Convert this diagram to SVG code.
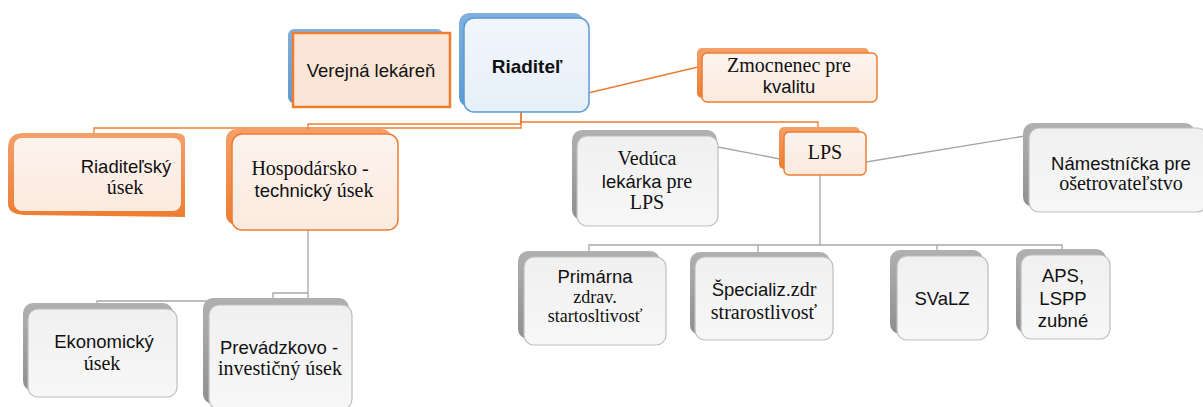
<svg xmlns="http://www.w3.org/2000/svg" width="1203" height="407" viewBox="0 0 1203 407">
<defs>
<linearGradient id="gOr" x1="0" y1="0" x2="0" y2="1"><stop offset="0" stop-color="#f4a06a"/><stop offset="1" stop-color="#ed7d31"/></linearGradient>
<linearGradient id="gGr" x1="0" y1="0" x2="0" y2="1"><stop offset="0" stop-color="#b0b0b0"/><stop offset="1" stop-color="#8f8f8f"/></linearGradient>
<linearGradient id="gBl" x1="0" y1="0" x2="0" y2="1"><stop offset="0" stop-color="#7fb0de"/><stop offset="1" stop-color="#5b9bd5"/></linearGradient>
<linearGradient id="fOr" x1="0" y1="0" x2="0" y2="1"><stop offset="0" stop-color="#fdf3ee"/><stop offset="1" stop-color="#fbeade"/></linearGradient>
<linearGradient id="fGr" x1="0" y1="0" x2="0" y2="1"><stop offset="0" stop-color="#f0f0f0"/><stop offset="1" stop-color="#f7f7f7"/></linearGradient>
<linearGradient id="fBl" x1="0" y1="0" x2="0" y2="1"><stop offset="0" stop-color="#f2f6fc"/><stop offset="1" stop-color="#e6eff9"/></linearGradient>
</defs>
<style>
.sO{fill:url(#gOr)}
.sG{fill:url(#gGr)}
.sB{fill:url(#gBl)}
.fO{fill:url(#fOr);stroke:#ed7d31;stroke-width:1.5}
.fG{fill:url(#fGr);stroke:#bdbdbd;stroke-width:1.2}
.fB{fill:url(#fBl);stroke:#5b9bd5;stroke-width:1.5}
.s{font-family:"Liberation Sans",Arial,sans-serif;font-size:18.5px;fill:#111;text-anchor:middle}
.r{font-family:"Liberation Serif","Times New Roman",serif;font-size:20px;fill:#111;text-anchor:middle}
.rs{font-family:"Liberation Serif","Times New Roman",serif;font-size:18px;fill:#111;text-anchor:middle}
.co{fill:none;stroke:#ed7d31;stroke-width:1.3}
.cg{fill:none;stroke:#a6a6a6;stroke-width:1.3}
</style>
<g id="connectors">
<path class="co" d="M521,112 V128 H94 V134"/>
<path class="co" d="M521,112 V124 H308 V130"/>
<path class="co" d="M521,112 V122 H818 V128"/>
<path class="co" d="M588,93 L698,67"/>
<path class="cg" d="M718,147 L780,159"/>
<path class="cg" d="M866,162 L1025,136"/>
<path class="cg" d="M820,175 V245 H589 V252"/>
<path class="cg" d="M820,245 H1062 V250"/>
<path class="cg" d="M758,245 V252"/>
<path class="cg" d="M937,245 V251"/>
<path class="cg" d="M308,230 V301 H97 V305"/>
<path class="cg" d="M308,293 H273 V299"/>
</g>
<g id="verejna">
<rect class="sB" x="288" y="29" width="155" height="74" rx="6"/>
<rect x="293" y="33" width="157" height="74" fill="#fbe5d6" stroke="#ed7d31" stroke-width="2.5"/>
<text class="s" x="371" y="77">Verejná lekáreň</text>
</g>
<g id="riaditel">
<rect class="sB" x="459" y="13" width="125" height="94" rx="10"/>
<rect class="fB" x="464" y="18" width="125" height="94" rx="10"/>
<text class="s" x="527" y="73" font-weight="bold" style="font-size:19px">Riaditeľ</text>
</g>
<g id="zmocnenec">
<rect class="sO" x="697" y="48" width="172" height="50" rx="5"/>
<rect class="fO" x="702" y="53" width="175" height="49" rx="5"/>
<text class="r" x="789" y="72">Zmocnenec pre</text>
<text class="s" x="789" y="93">kvalitu</text>
</g>
<g id="riaditelsky">
<path class="sO" d="M8,148 Q8,133 24,133 L174,133 Q184,133 185,138 L185,217 L24,215 Q8,214 8,204 Z"/>
<rect x="14" y="138" width="167" height="73" rx="8" fill="url(#fOr)"/>
<text class="s" x="126" y="173">Riaditeľský</text>
<text class="r" x="125" y="194">úsek</text>
</g>
<g id="hospodarsko">
<rect class="sO" x="226" y="129" width="166" height="96" rx="10"/>
<rect class="fO" x="232" y="134" width="166" height="96" rx="10"/>
<text class="r" x="310" y="175">Hospodársko -</text>
<text x="314" y="197" style="text-anchor:middle;fill:#111"><tspan font-family="Liberation Sans, Arial, sans-serif" font-size="18.5">technický </tspan><tspan font-family="Liberation Serif, Times New Roman, serif" font-size="20">úsek</tspan></text>
</g>
<g id="veduca">
<rect class="sG" x="572" y="130" width="145" height="90" rx="10"/>
<rect class="fG" x="577" y="136" width="141" height="90" rx="10"/>
<text class="r" x="647" y="165">Vedúca</text>
<text x="647" y="188" style="text-anchor:middle;fill:#111"><tspan font-family="Liberation Sans, Arial, sans-serif" font-size="18.5">lekárka </tspan><tspan font-family="Liberation Serif, Times New Roman, serif" font-size="20">pre</tspan></text>
<text class="r" x="647" y="209">LPS</text>
</g>
<g id="lps">
<rect class="sO" x="779" y="127" width="81" height="42" rx="5"/>
<rect class="fO" x="784" y="132" width="82" height="43" rx="5"/>
<text class="r" x="825" y="159">LPS</text>
</g>
<g id="namestnicka">
<rect class="sG" x="1023" y="123" width="172" height="84" rx="10"/>
<rect class="fG" x="1029" y="128" width="178" height="84" rx="10"/>
<text class="s" x="1121" y="170">Námestníčka pre</text>
<text class="r" x="1121" y="190">ošetrovateľstvo</text>
</g>
<g id="primarna">
<rect class="sG" x="518" y="251" width="142" height="88" rx="10"/>
<rect class="fG" x="524" y="257" width="142" height="88" rx="10"/>
<text class="s" x="595" y="283">Primárna</text>
<text class="rs" x="595" y="303">zdrav.</text>
<text class="rs" x="595" y="322">startosltivosť</text>
</g>
<g id="specializ">
<rect class="sG" x="690" y="252" width="140" height="83" rx="10"/>
<rect class="fG" x="695" y="257" width="138" height="83" rx="10"/>
<text x="764" y="296" style="text-anchor:middle;fill:#111"><tspan font-family="Liberation Sans, Arial, sans-serif" font-size="18.5">Špecializ.</tspan><tspan font-family="Liberation Serif, Times New Roman, serif" font-size="20">zdr</tspan></text>
<text class="r" x="764" y="319">strarostlivosť</text>
</g>
<g id="svalz">
<rect class="sG" x="890" y="250" width="93" height="84" rx="10"/>
<rect class="fG" x="897" y="256" width="91" height="84" rx="10"/>
<text class="s" x="942" y="305">SVaLZ</text>
</g>
<g id="aps">
<rect class="sG" x="1016" y="249" width="90" height="84" rx="10"/>
<rect class="fG" x="1021" y="255" width="89" height="84" rx="10"/>
<text class="s" x="1063" y="282">APS,</text>
<text class="s" x="1063" y="305">LSPP</text>
<text class="s" x="1063" y="327">zubné</text>
</g>
<g id="ekonomicky">
<rect class="sG" x="23" y="303" width="150" height="88" rx="10"/>
<rect class="fG" x="28" y="309" width="149" height="88" rx="10"/>
<text class="s" x="104" y="348">Ekonomický</text>
<text class="r" x="102" y="370">úsek</text>
</g>
<g id="prevadzkovo">
<rect class="sG" x="203" y="298" width="146" height="106" rx="10"/>
<rect class="fG" x="209" y="305" width="143" height="104" rx="10"/>
<text class="s" x="279" y="354">Prevádzkovo -</text>
<text class="r" x="280" y="375">investičný úsek</text>
</g>
</svg>
